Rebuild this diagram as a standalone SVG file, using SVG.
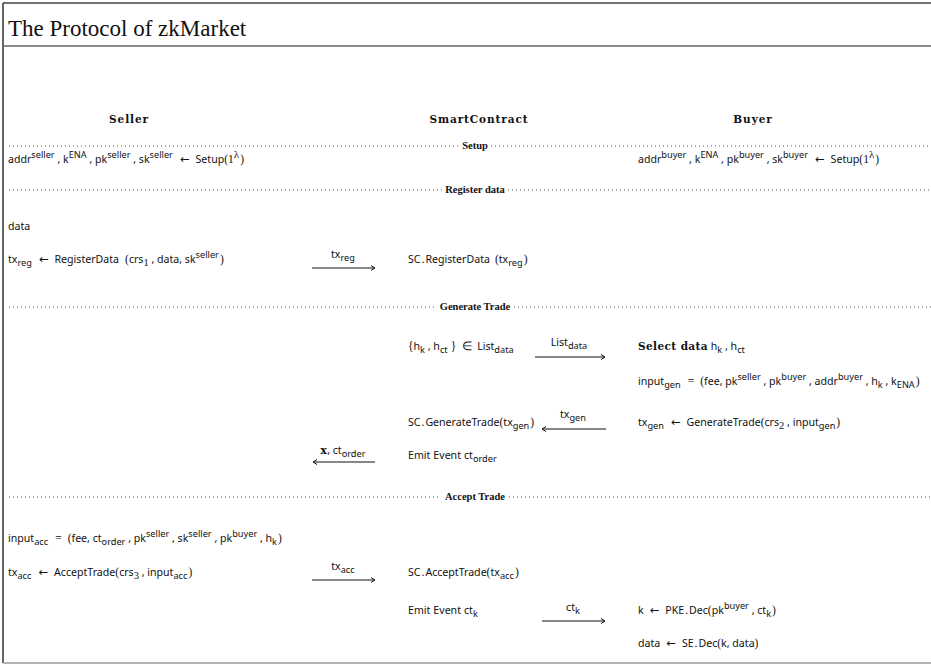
<svg xmlns="http://www.w3.org/2000/svg" width="931" height="664" viewBox="0 0 931 664">
<defs>
<style>
.m{font-family:"Noto Sans",sans-serif;font-size:10.6px;fill:#111}
.r{font-family:"Liberation Serif",serif;font-size:11.5px}
.ar{font-family:"DejaVu Sans",sans-serif;font-size:11.5px}
.sp{font-size:9.2px;baseline-shift:5.5px}
.sb{font-size:9.2px;baseline-shift:-3px}
.sd{font-family:"Liberation Serif",serif;font-size:10.5px;baseline-shift:-3px}
.sl{font-family:"Liberation Serif",serif;font-size:11px;baseline-shift:5.5px}
.hd{font-family:"DejaVu Serif",serif;font-weight:bold;font-size:10.5px;letter-spacing:0.9px;fill:#111;text-anchor:middle}
.bd{font-family:"DejaVu Serif",serif;font-weight:bold;font-size:10.5px;letter-spacing:0.4px}
.sec{font-family:"Liberation Serif",serif;font-weight:bold;font-size:10.5px;fill:#111;text-anchor:middle}
.dot{stroke:#555;stroke-width:1;stroke-dasharray:1 3}
.arr{stroke:#111;stroke-width:1.2;fill:none}
</style>
<marker id="ah" markerWidth="8" markerHeight="8" refX="6" refY="4" orient="auto" markerUnits="userSpaceOnUse">
<path d="M2,1.5 L6,4 L2,6.5" fill="none" stroke="#111" stroke-width="1"/>
</marker>
</defs>
<rect width="931" height="664" fill="#fff"/>
<g id="frame">
<line x1="3" y1="3" x2="931" y2="3" stroke="#444" stroke-width="1.5"/>
<line x1="3" y1="3" x2="3" y2="663" stroke="#333" stroke-width="1.5"/>
<line x1="3" y1="46" x2="931" y2="46" stroke="#666" stroke-width="1.5"/>
<line x1="3" y1="663" x2="931" y2="663" stroke="#999" stroke-width="1.5"/>
<text x="8" y="36" font-family="Liberation Serif, serif" font-size="23" fill="#111">The Protocol of zkMarket</text>
</g>
<g id="headers">
<text class="hd" x="129" y="123">Seller</text>
<text class="hd" x="479" y="123">SmartContract</text>
<text class="hd" x="753" y="123">Buyer</text>
</g>
<g id="sections">
<line class="dot" x1="9" y1="146" x2="459" y2="146"/><text class="sec" x="475" y="149">Setup</text><line class="dot" x1="491" y1="146" x2="931" y2="146"/>
<line class="dot" x1="9" y1="190" x2="442" y2="190"/><text class="sec" x="475" y="193">Register data</text><line class="dot" x1="508" y1="190" x2="931" y2="190"/>
<line class="dot" x1="9" y1="307" x2="436" y2="307"/><text class="sec" x="475" y="310">Generate Trade</text><line class="dot" x1="514" y1="307" x2="931" y2="307"/>
<line class="dot" x1="9" y1="497" x2="441" y2="497"/><text class="sec" x="475" y="500">Accept Trade</text><line class="dot" x1="509" y1="497" x2="931" y2="497"/>
</g>
<g id="seller">
<text class="m" x="8" y="163">addr<tspan class="sp">seller</tspan> , k<tspan class="sp">ENA</tspan> , pk<tspan class="sp">seller</tspan> , sk<tspan class="sp">seller</tspan><tspan class="ar" dx="7">←</tspan><tspan dx="6">Setup</tspan><tspan class="r">(1</tspan><tspan class="sl">λ</tspan><tspan class="r" dx="1">)</tspan></text>
<text class="m" x="8" y="230">data</text>
<text class="m" x="8" y="263">tx<tspan class="sb">reg</tspan><tspan class="ar" dx="7">←</tspan><tspan dx="6">RegisterData</tspan><tspan class="r" dx="6">(</tspan>crs<tspan class="sd">1</tspan> , data, sk<tspan class="sp">seller</tspan><tspan class="r" dx="1">)</tspan></text>
<text class="m" x="8" y="542">input<tspan class="sb">acc</tspan><tspan class="r" dx="7">=</tspan><tspan class="r" dx="6">(</tspan>fee, ct<tspan class="sb">order</tspan> , pk<tspan class="sp">seller</tspan> , sk<tspan class="sp">seller</tspan> , pk<tspan class="sp">buyer</tspan> , h<tspan class="sb">k</tspan><tspan class="r" dx="1">)</tspan></text>
<text class="m" x="8" y="576">tx<tspan class="sb">acc</tspan><tspan class="ar" dx="7">←</tspan><tspan dx="6">AcceptTrade</tspan><tspan class="r">(</tspan>crs<tspan class="sd">3</tspan> , input<tspan class="sb">acc</tspan><tspan class="r" dx="1">)</tspan></text>
</g>
<g id="smartcontract">
<text class="m" x="408" y="263">SC<tspan class="r" dx="1">.</tspan><tspan dx="1">RegisterData</tspan><tspan class="r" dx="5">(</tspan>tx<tspan class="sb">reg</tspan><tspan class="r" dx="1">)</tspan></text>
<text class="m" x="408" y="350"><tspan class="r">{</tspan>h<tspan class="sb">k</tspan> , h<tspan class="sb">ct</tspan><tspan class="r" dx="3">}</tspan><tspan class="r" dx="6">∈</tspan><tspan dx="5">List</tspan><tspan class="sb">data</tspan></text>
<text class="m" x="408" y="426">SC<tspan class="r" dx="1">.</tspan><tspan dx="1">GenerateTrade</tspan><tspan class="r">(</tspan>tx<tspan class="sb">gen</tspan><tspan class="r" dx="1">)</tspan></text>
<text class="m" x="408" y="459">Emit<tspan dx="3">Event</tspan><tspan dx="3">ct</tspan><tspan class="sb">order</tspan></text>
<text class="m" x="408" y="576">SC<tspan class="r" dx="1">.</tspan><tspan dx="1">AcceptTrade</tspan><tspan class="r">(</tspan>tx<tspan class="sb">acc</tspan><tspan class="r" dx="1">)</tspan></text>
<text class="m" x="408" y="614">Emit<tspan dx="3">Event</tspan><tspan dx="3">ct</tspan><tspan class="sb">k</tspan></text>
</g>
<g id="buyer">
<text class="m" x="638" y="163">addr<tspan class="sp">buyer</tspan> , k<tspan class="sp">ENA</tspan> , pk<tspan class="sp">buyer</tspan> , sk<tspan class="sp">buyer</tspan><tspan class="ar" dx="7">←</tspan><tspan dx="6">Setup</tspan><tspan class="r">(1</tspan><tspan class="sl">λ</tspan><tspan class="r" dx="1">)</tspan></text>
<text class="m" x="638" y="350"><tspan class="bd">Select data</tspan> h<tspan class="sb">k</tspan> , h<tspan class="sb">ct</tspan></text>
<text class="m" x="638" y="385">input<tspan class="sb">gen</tspan><tspan class="r" dx="7">=</tspan><tspan class="r" dx="6">(</tspan>fee, pk<tspan class="sp">seller</tspan> , pk<tspan class="sp">buyer</tspan> , addr<tspan class="sp">buyer</tspan> , h<tspan class="sb">k</tspan> , k<tspan class="sb">ENA</tspan><tspan class="r" dx="1">)</tspan></text>
<text class="m" x="638" y="426">tx<tspan class="sb">gen</tspan><tspan class="ar" dx="7">←</tspan><tspan dx="6">GenerateTrade</tspan><tspan class="r">(</tspan>crs<tspan class="sd">2</tspan> , input<tspan class="sb">gen</tspan><tspan class="r" dx="1">)</tspan></text>
<text class="m" x="638" y="614">k<tspan class="ar" dx="6">←</tspan><tspan dx="6">PKE</tspan><tspan class="r" dx="1">.</tspan><tspan dx="1">Dec</tspan><tspan class="r">(</tspan>pk<tspan class="sp">buyer</tspan> , ct<tspan class="sb">k</tspan><tspan class="r" dx="1">)</tspan></text>
<text class="m" x="638" y="647">data<tspan class="ar" dx="6">←</tspan><tspan dx="6">SE</tspan><tspan class="r" dx="1">.</tspan><tspan dx="1">Dec</tspan><tspan class="r">(</tspan>k, data<tspan class="r">)</tspan></text>
</g>
<g id="connectors">
<line class="arr" x1="312" y1="268" x2="375" y2="268" marker-end="url(#ah)"/>
<text class="m" x="343" y="258" text-anchor="middle">tx<tspan class="sb">reg</tspan></text>
<line class="arr" x1="535" y1="357" x2="605" y2="357" marker-end="url(#ah)"/>
<text class="m" x="569" y="346" text-anchor="middle">List<tspan class="sb">data</tspan></text>
<line class="arr" x1="606" y1="429" x2="542" y2="429" marker-end="url(#ah)"/>
<text class="m" x="573" y="418" text-anchor="middle">tx<tspan class="sb">gen</tspan></text>
<line class="arr" x1="375" y1="462" x2="313" y2="462" marker-end="url(#ah)" stroke="#555" stroke-width="1.5"/>
<text class="m" x="343" y="454" text-anchor="middle"><tspan class="bd">x</tspan>, ct<tspan class="sb">order</tspan></text>
<line class="arr" x1="312" y1="580" x2="375" y2="580" marker-end="url(#ah)"/>
<text class="m" x="343" y="570" text-anchor="middle">tx<tspan class="sb">acc</tspan></text>
<line class="arr" x1="542" y1="621" x2="605" y2="621" marker-end="url(#ah)"/>
<text class="m" x="573" y="611" text-anchor="middle">ct<tspan class="sb">k</tspan></text>
</g>
</svg>
